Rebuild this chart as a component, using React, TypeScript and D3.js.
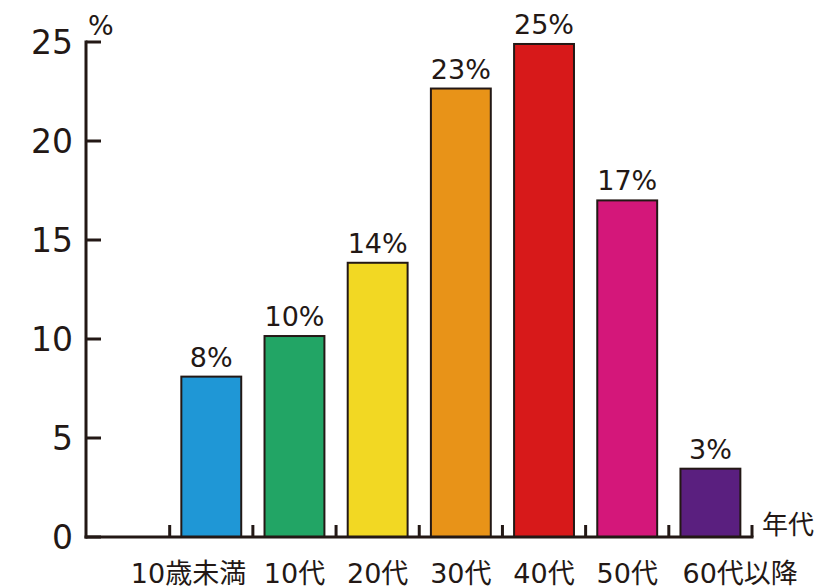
import React, { useEffect } from "react";
import * as d3 from "d3";

const categories = ["", "10歳未満", "10代", "20代", "30代", "40代", "50代", "60代以降"];
const values = [null, 8.1, 10.15, 13.85, 22.65, 24.9, 17.0, 3.45];
const valueLabels = ["", "8%", "10%", "14%", "23%", "25%", "17%", "3%"];
const colors = ["none", "#1f97d6", "#22a565", "#f2d823", "#e89318", "#d7191a", "#d4177a", "#5a1f7f"];
const yTicks = [0, 5, 10, 15, 20, 25];

const width = 836;
const height = 588;
const ink = "#231815";
const font = "'DejaVu Sans', 'Noto Sans CJK JP', sans-serif";

const x = d3
  .scaleBand<string>()
  .domain(categories.map((c, i) => String(i)))
  .range([86.5, 752])
  .paddingInner(0.28)
  .paddingOuter(0.14);

const y = d3.scaleLinear().domain([0, 25]).range([537, 42]);

export default function App() {
  useEffect(() => {
    document.body.style.margin = "0";
  }, []);

  const step = x.step();
  const x0 = 86.5;
  // boundary ticks between categories
  const boundaries = d3.range(1, categories.length + 1).map((i) => x0 + i * step);

  return (
    <svg width={width} height={height} style={{ display: "block", background: "#fff" }}>
      {/* bars */}
      {values.map((v, i) =>
        v == null ? null : (
          <rect
            key={"b" + i}
            x={x(String(i))}
            y={y(v)}
            width={x.bandwidth()}
            height={y(0) - y(v)}
            fill={colors[i]}
            stroke={ink}
            strokeWidth={2}
          />
        )
      )}

      {/* value labels */}
      {values.map((v, i) =>
        v == null ? null : (
          <text
            key={"v" + i}
            x={(x(String(i)) as number) + x.bandwidth() / 2}
            y={y(v) - 10}
            textAnchor="middle"
            fontFamily={font}
            fontSize={27}
            fill={ink}
          >
            {valueLabels[i]}
          </text>
        )
      )}

      {/* y axis */}
      <line x1={86} x2={86} y1={y(25) - 1.5} y2={y(0) + 1.5} stroke={ink} strokeWidth={3} />
      {yTicks.map((t) => (
        <g key={"t" + t}>
          <line x1={86} x2={101} y1={y(t)} y2={y(t)} stroke={ink} strokeWidth={3} />
          <text
            x={73}
            y={y(t)}
            dy="0.36em"
            textAnchor="end"
            fontFamily={font}
            fontSize={33}
            fill={ink}
          >
            {t}
          </text>
        </g>
      ))}
      <text x={88} y={35} fontFamily={font} fontSize={27} fill={ink}>
        %
      </text>

      {/* x axis */}
      <line x1={84.5} x2={753.5} y1={y(0)} y2={y(0)} stroke={ink} strokeWidth={3} />
      {boundaries.map((b, i) => (
        <line key={"xb" + i} x1={b} x2={b} y1={y(0)} y2={y(0) - 12} stroke={ink} strokeWidth={3} />
      ))}
      <text x={762} y={534} fontFamily={font} fontSize={26} fill={ink}>
        年代
      </text>

      {/* category labels */}
      {categories.map((c, i) => {
        if (!c) return null;
        const left = x(String(i)) as number;
        const bw = x.bandwidth();
        let anchor = "middle";
        let tx = left + bw / 2;
        if (i === 1) {
          anchor = "end";
          tx = left + bw + 5;
        } else if (i === categories.length - 1) {
          anchor = "start";
          tx = left + 2;
        }
        return (
          <text
            key={"c" + i}
            x={tx}
            y={583}
            textAnchor={anchor}
            fontFamily={font}
            fontSize={27}
            fill={ink}
          >
            {c}
          </text>
        );
      })}
    </svg>
  );
}
